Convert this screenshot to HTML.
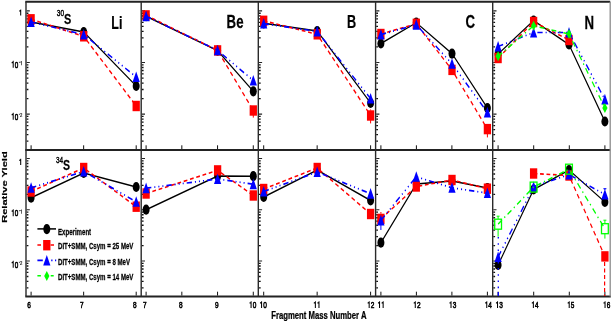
<!DOCTYPE html>
<html><head><meta charset="utf-8"><style>
html,body{margin:0;padding:0;background:#fff;overflow:hidden;}
svg{display:block;}
</style></head><body>
<svg width="612" height="322" viewBox="0 0 612 322">
<rect width="612" height="322" fill="#fff"/>
<path d="M26.60 10.90h3.2 M26.60 62.50h3.2 M26.60 114.10h3.2 M141.80 10.90h3.2 M141.80 62.50h3.2 M141.80 114.10h3.2 M258.90 10.90h3.2 M258.90 62.50h3.2 M258.90 114.10h3.2 M376.20 10.90h3.2 M376.20 62.50h3.2 M376.20 114.10h3.2 M493.30 10.90h3.2 M493.30 62.50h3.2 M493.30 114.10h3.2 M26.60 158.55h3.2 M26.60 209.80h3.2 M26.60 261.05h3.2 M141.80 158.55h3.2 M141.80 209.80h3.2 M141.80 261.05h3.2 M258.90 158.55h3.2 M258.90 209.80h3.2 M258.90 261.05h3.2 M376.20 158.55h3.2 M376.20 209.80h3.2 M376.20 261.05h3.2 M493.30 158.55h3.2 M493.30 209.80h3.2 M493.30 261.05h3.2" stroke="#222" stroke-width="1.1" fill="none"/>
<path d="M26.60 46.97h1.8 M26.60 37.88h1.8 M26.60 31.43h1.8 M26.60 26.43h1.8 M26.60 22.35h1.8 M26.60 18.89h1.8 M26.60 15.90h1.8 M26.60 13.26h1.8 M26.60 98.57h1.8 M26.60 89.48h1.8 M26.60 83.03h1.8 M26.60 78.03h1.8 M26.60 73.95h1.8 M26.60 70.49h1.8 M26.60 67.50h1.8 M26.60 64.86h1.8 M26.60 141.08h1.8 M26.60 134.63h1.8 M26.60 129.63h1.8 M26.60 125.55h1.8 M26.60 122.09h1.8 M26.60 119.10h1.8 M26.60 116.46h1.8 M141.80 46.97h1.8 M141.80 37.88h1.8 M141.80 31.43h1.8 M141.80 26.43h1.8 M141.80 22.35h1.8 M141.80 18.89h1.8 M141.80 15.90h1.8 M141.80 13.26h1.8 M141.80 98.57h1.8 M141.80 89.48h1.8 M141.80 83.03h1.8 M141.80 78.03h1.8 M141.80 73.95h1.8 M141.80 70.49h1.8 M141.80 67.50h1.8 M141.80 64.86h1.8 M141.80 141.08h1.8 M141.80 134.63h1.8 M141.80 129.63h1.8 M141.80 125.55h1.8 M141.80 122.09h1.8 M141.80 119.10h1.8 M141.80 116.46h1.8 M258.90 46.97h1.8 M258.90 37.88h1.8 M258.90 31.43h1.8 M258.90 26.43h1.8 M258.90 22.35h1.8 M258.90 18.89h1.8 M258.90 15.90h1.8 M258.90 13.26h1.8 M258.90 98.57h1.8 M258.90 89.48h1.8 M258.90 83.03h1.8 M258.90 78.03h1.8 M258.90 73.95h1.8 M258.90 70.49h1.8 M258.90 67.50h1.8 M258.90 64.86h1.8 M258.90 141.08h1.8 M258.90 134.63h1.8 M258.90 129.63h1.8 M258.90 125.55h1.8 M258.90 122.09h1.8 M258.90 119.10h1.8 M258.90 116.46h1.8 M376.20 46.97h1.8 M376.20 37.88h1.8 M376.20 31.43h1.8 M376.20 26.43h1.8 M376.20 22.35h1.8 M376.20 18.89h1.8 M376.20 15.90h1.8 M376.20 13.26h1.8 M376.20 98.57h1.8 M376.20 89.48h1.8 M376.20 83.03h1.8 M376.20 78.03h1.8 M376.20 73.95h1.8 M376.20 70.49h1.8 M376.20 67.50h1.8 M376.20 64.86h1.8 M376.20 141.08h1.8 M376.20 134.63h1.8 M376.20 129.63h1.8 M376.20 125.55h1.8 M376.20 122.09h1.8 M376.20 119.10h1.8 M376.20 116.46h1.8 M493.30 46.97h1.8 M493.30 37.88h1.8 M493.30 31.43h1.8 M493.30 26.43h1.8 M493.30 22.35h1.8 M493.30 18.89h1.8 M493.30 15.90h1.8 M493.30 13.26h1.8 M493.30 98.57h1.8 M493.30 89.48h1.8 M493.30 83.03h1.8 M493.30 78.03h1.8 M493.30 73.95h1.8 M493.30 70.49h1.8 M493.30 67.50h1.8 M493.30 64.86h1.8 M493.30 141.08h1.8 M493.30 134.63h1.8 M493.30 129.63h1.8 M493.30 125.55h1.8 M493.30 122.09h1.8 M493.30 119.10h1.8 M493.30 116.46h1.8 M26.60 194.37h1.8 M26.60 185.35h1.8 M26.60 178.94h1.8 M26.60 173.98h1.8 M26.60 169.92h1.8 M26.60 166.49h1.8 M26.60 163.52h1.8 M26.60 160.90h1.8 M26.60 245.62h1.8 M26.60 236.60h1.8 M26.60 230.19h1.8 M26.60 225.23h1.8 M26.60 221.17h1.8 M26.60 217.74h1.8 M26.60 214.77h1.8 M26.60 212.15h1.8 M26.60 287.85h1.8 M26.60 281.44h1.8 M26.60 276.48h1.8 M26.60 272.42h1.8 M26.60 268.99h1.8 M26.60 266.02h1.8 M26.60 263.40h1.8 M141.80 194.37h1.8 M141.80 185.35h1.8 M141.80 178.94h1.8 M141.80 173.98h1.8 M141.80 169.92h1.8 M141.80 166.49h1.8 M141.80 163.52h1.8 M141.80 160.90h1.8 M141.80 245.62h1.8 M141.80 236.60h1.8 M141.80 230.19h1.8 M141.80 225.23h1.8 M141.80 221.17h1.8 M141.80 217.74h1.8 M141.80 214.77h1.8 M141.80 212.15h1.8 M141.80 287.85h1.8 M141.80 281.44h1.8 M141.80 276.48h1.8 M141.80 272.42h1.8 M141.80 268.99h1.8 M141.80 266.02h1.8 M141.80 263.40h1.8 M258.90 194.37h1.8 M258.90 185.35h1.8 M258.90 178.94h1.8 M258.90 173.98h1.8 M258.90 169.92h1.8 M258.90 166.49h1.8 M258.90 163.52h1.8 M258.90 160.90h1.8 M258.90 245.62h1.8 M258.90 236.60h1.8 M258.90 230.19h1.8 M258.90 225.23h1.8 M258.90 221.17h1.8 M258.90 217.74h1.8 M258.90 214.77h1.8 M258.90 212.15h1.8 M258.90 287.85h1.8 M258.90 281.44h1.8 M258.90 276.48h1.8 M258.90 272.42h1.8 M258.90 268.99h1.8 M258.90 266.02h1.8 M258.90 263.40h1.8 M376.20 194.37h1.8 M376.20 185.35h1.8 M376.20 178.94h1.8 M376.20 173.98h1.8 M376.20 169.92h1.8 M376.20 166.49h1.8 M376.20 163.52h1.8 M376.20 160.90h1.8 M376.20 245.62h1.8 M376.20 236.60h1.8 M376.20 230.19h1.8 M376.20 225.23h1.8 M376.20 221.17h1.8 M376.20 217.74h1.8 M376.20 214.77h1.8 M376.20 212.15h1.8 M376.20 287.85h1.8 M376.20 281.44h1.8 M376.20 276.48h1.8 M376.20 272.42h1.8 M376.20 268.99h1.8 M376.20 266.02h1.8 M376.20 263.40h1.8 M493.30 194.37h1.8 M493.30 185.35h1.8 M493.30 178.94h1.8 M493.30 173.98h1.8 M493.30 169.92h1.8 M493.30 166.49h1.8 M493.30 163.52h1.8 M493.30 160.90h1.8 M493.30 245.62h1.8 M493.30 236.60h1.8 M493.30 230.19h1.8 M493.30 225.23h1.8 M493.30 221.17h1.8 M493.30 217.74h1.8 M493.30 214.77h1.8 M493.30 212.15h1.8 M493.30 287.85h1.8 M493.30 281.44h1.8 M493.30 276.48h1.8 M493.30 272.42h1.8 M493.30 268.99h1.8 M493.30 266.02h1.8 M493.30 263.40h1.8" stroke="#111" stroke-width="1.3" fill="none"/>
<path d="M31.10 149.20v-3.9 M83.65 149.20v-3.9 M136.20 149.20v-3.9 M146.10 149.20v-3.9 M181.83 149.20v-3.9 M217.56 149.20v-3.9 M253.29 149.20v-3.9 M263.70 149.20v-3.9 M317.15 149.20v-3.9 M370.60 149.20v-3.9 M380.90 149.20v-3.9 M416.40 149.20v-3.9 M451.90 149.20v-3.9 M487.40 149.20v-3.9 M498.10 149.20v-3.9 M533.70 149.20v-3.9 M569.30 149.20v-3.9 M604.90 149.20v-3.9 M31.10 295.60v-3.9 M83.65 295.60v-3.9 M136.20 295.60v-3.9 M146.10 295.60v-3.9 M181.83 295.60v-3.9 M217.56 295.60v-3.9 M253.29 295.60v-3.9 M263.70 295.60v-3.9 M317.15 295.60v-3.9 M370.60 295.60v-3.9 M380.90 295.60v-3.9 M416.40 295.60v-3.9 M451.90 295.60v-3.9 M487.40 295.60v-3.9 M498.10 295.60v-3.9 M533.70 295.60v-3.9 M569.30 295.60v-3.9 M604.90 295.60v-3.9" stroke="#111" stroke-width="1.0" fill="none"/>
<path d="M25.3 1.7H610.2 M25.3 150.0H610.2 M25.3 296.4H610.8000000000001" stroke="#222" stroke-width="2" fill="none"/>
<path d="M26.0 1.7V296.4 M141.2 1.7V296.4 M258.3 1.7V296.4 M375.6 1.7V296.4 M492.7 1.7V296.4" stroke="#2a2a2a" stroke-width="1.4" fill="none"/>
<path d="M610.2 1.7V296.4" stroke="#8c8c8c" stroke-width="1.3" fill="none"/>
<clipPath id="c00"><rect x="26.0" y="1.7" width="115.19999999999999" height="148.3"/></clipPath>
<g clip-path="url(#c00)">
<path transform="scale(0.75,1)" d="M41.47 22.00 L111.60 32.00 L181.60 86.00" fill="none" stroke="#000" stroke-width="1.45"/>
<ellipse cx="31.1" cy="22" rx="3.5" ry="5.1" fill="#000"/>
<ellipse cx="83.7" cy="32" rx="3.5" ry="5.1" fill="#000"/>
<ellipse cx="136.2" cy="86" rx="3.5" ry="5.1" fill="#000"/>
<path transform="scale(0.75,1)" d="M41.47 19.30 L111.60 36.30 L181.60 106.00" fill="none" stroke="#ff0000" stroke-width="1.6" stroke-dasharray="5 3.6"/>
<rect x="27.45" y="14.10" width="7.3" height="10.4" fill="#ff0000"/>
<rect x="80.05" y="31.10" width="7.3" height="10.4" fill="#ff0000"/>
<rect x="132.55" y="100.80" width="7.3" height="10.4" fill="#ff0000"/>
<path transform="scale(0.75,1)" d="M41.47 22.00 L111.60 34.50 L181.60 77.00" fill="none" stroke="#0000ff" stroke-width="1.7" stroke-dasharray="7 4 1.4 4 1.4 4 1.4 4"/>
<path d="M31.10 16.40L34.70 27.00H27.50Z" fill="#0000ff"/>
<path d="M83.70 28.90L87.30 39.50H80.10Z" fill="#0000ff"/>
<path d="M136.20 71.40L139.80 82.00H132.60Z" fill="#0000ff"/>
</g>
<clipPath id="c01"><rect x="141.2" y="1.7" width="117.10000000000002" height="148.3"/></clipPath>
<g clip-path="url(#c01)">
<path transform="scale(0.75,1)" d="M194.80 16.20 L290.13 50.60 L337.73 91.30" fill="none" stroke="#000" stroke-width="1.45"/>
<ellipse cx="146.1" cy="16.2" rx="3.5" ry="5.1" fill="#000"/>
<ellipse cx="217.6" cy="50.6" rx="3.5" ry="5.1" fill="#000"/>
<ellipse cx="253.3" cy="91.3" rx="3.5" ry="5.1" fill="#000"/>
<path transform="scale(0.75,1)" d="M194.80 15.40 L290.13 50.40 L337.73 110.50" fill="none" stroke="#ff0000" stroke-width="1.6" stroke-dasharray="5 3.6"/>
<rect x="142.45" y="10.20" width="7.3" height="10.4" fill="#ff0000"/>
<rect x="213.95" y="45.20" width="7.3" height="10.4" fill="#ff0000"/>
<rect x="249.65" y="105.30" width="7.3" height="10.4" fill="#ff0000"/>
<path transform="scale(0.75,1)" d="M194.80 16.20 L290.13 50.30 L337.73 80.50" fill="none" stroke="#0000ff" stroke-width="1.7" stroke-dasharray="7 4 1.4 4 1.4 4 1.4 4"/>
<path d="M146.10 10.60L149.70 21.20H142.50Z" fill="#0000ff"/>
<path d="M217.60 44.70L221.20 55.30H214.00Z" fill="#0000ff"/>
<path d="M253.30 74.90L256.90 85.50H249.70Z" fill="#0000ff"/>
</g>
<clipPath id="c02"><rect x="258.3" y="1.7" width="117.30000000000001" height="148.3"/></clipPath>
<g clip-path="url(#c02)">
<path transform="scale(0.75,1)" d="M351.60 23.30 L422.93 31.00 L494.13 103.00" fill="none" stroke="#000" stroke-width="1.45"/>
<ellipse cx="263.7" cy="23.3" rx="3.5" ry="5.1" fill="#000"/>
<ellipse cx="317.2" cy="31" rx="3.5" ry="5.1" fill="#000"/>
<ellipse cx="370.6" cy="103" rx="3.5" ry="5.1" fill="#000"/>
<path transform="scale(0.75,1)" d="M351.60 20.80 L422.93 34.30 L494.13 115.50" fill="none" stroke="#ff0000" stroke-width="1.6" stroke-dasharray="5 3.6"/>
<rect x="260.05" y="15.60" width="7.3" height="10.4" fill="#ff0000"/>
<rect x="313.55" y="29.10" width="7.3" height="10.4" fill="#ff0000"/>
<rect x="366.95" y="110.30" width="7.3" height="10.4" fill="#ff0000"/>
<path transform="scale(0.75,1)" d="M351.60 23.60 L422.93 31.40 L494.13 98.60" fill="none" stroke="#0000ff" stroke-width="1.7" stroke-dasharray="7 4 1.4 4 1.4 4 1.4 4"/>
<path d="M263.70 18.00L267.30 28.60H260.10Z" fill="#0000ff"/>
<path d="M317.20 25.80L320.80 36.40H313.60Z" fill="#0000ff"/>
<path d="M370.60 93.00L374.20 103.60H367.00Z" fill="#0000ff"/>
</g>
<clipPath id="c03"><rect x="375.6" y="1.7" width="117.09999999999997" height="148.3"/></clipPath>
<g clip-path="url(#c03)">
<path transform="scale(0.75,1)" d="M507.87 43.50 L555.07 22.70 L602.67 53.60 L649.87 108.00" fill="none" stroke="#000" stroke-width="1.45"/>
<ellipse cx="380.9" cy="43.5" rx="3.5" ry="5.1" fill="#000"/>
<ellipse cx="416.3" cy="22.7" rx="3.5" ry="5.1" fill="#000"/>
<ellipse cx="452" cy="53.6" rx="3.5" ry="5.1" fill="#000"/>
<ellipse cx="487.4" cy="108" rx="3.5" ry="5.1" fill="#000"/>
<path transform="scale(0.75,1)" d="M507.87 34.00 L555.07 23.80 L602.67 69.90 L649.87 129.10" fill="none" stroke="#ff0000" stroke-width="1.6" stroke-dasharray="5 3.6"/>
<rect x="377.25" y="28.80" width="7.3" height="10.4" fill="#ff0000"/>
<rect x="412.65" y="18.60" width="7.3" height="10.4" fill="#ff0000"/>
<rect x="448.35" y="64.70" width="7.3" height="10.4" fill="#ff0000"/>
<rect x="483.75" y="123.90" width="7.3" height="10.4" fill="#ff0000"/>
<path transform="scale(0.75,1)" d="M507.87 34.60 L555.07 24.70 L602.67 63.80 L649.87 112.40" fill="none" stroke="#0000ff" stroke-width="1.7" stroke-dasharray="7 4 1.4 4 1.4 4 1.4 4"/>
<path d="M380.90 29.00L384.50 39.60H377.30Z" fill="#0000ff"/>
<path d="M416.30 19.10L419.90 29.70H412.70Z" fill="#0000ff"/>
<path d="M452.00 58.20L455.60 68.80H448.40Z" fill="#0000ff"/>
<path d="M487.40 106.80L491.00 117.40H483.80Z" fill="#0000ff"/>
</g>
<clipPath id="c04"><rect x="492.7" y="1.7" width="117.50000000000006" height="148.3"/></clipPath>
<g clip-path="url(#c04)">
<path transform="scale(0.75,1)" d="M664.13 54.00 L711.47 20.50 L758.67 44.50 L806.53 121.50" fill="none" stroke="#000" stroke-width="1.45"/>
<ellipse cx="498.1" cy="54" rx="3.5" ry="5.1" fill="#000"/>
<ellipse cx="533.6" cy="20.5" rx="3.5" ry="5.1" fill="#000"/>
<ellipse cx="569" cy="44.5" rx="3.5" ry="5.1" fill="#000"/>
<ellipse cx="604.9" cy="121.5" rx="3.5" ry="5.1" fill="#000"/>
<path transform="scale(0.75,1)" d="M664.13 58.00 L711.47 22.00 L758.67 40.00" fill="none" stroke="#ff0000" stroke-width="1.6" stroke-dasharray="5 3.6"/>
<rect x="494.45" y="52.80" width="7.3" height="10.4" fill="#ff0000"/>
<rect x="529.95" y="16.80" width="7.3" height="10.4" fill="#ff0000"/>
<rect x="565.35" y="34.80" width="7.3" height="10.4" fill="#ff0000"/>
<path transform="scale(0.75,1)" d="M664.13 46.50 L711.47 32.50 L758.67 32.50 L806.53 99.40" fill="none" stroke="#0000ff" stroke-width="1.7" stroke-dasharray="7 4 1.4 4 1.4 4 1.4 4"/>
<path d="M498.10 40.90L501.70 51.50H494.50Z" fill="#0000ff"/>
<path d="M533.60 26.90L537.20 37.50H530.00Z" fill="#0000ff"/>
<path d="M569.00 26.90L572.60 37.50H565.40Z" fill="#0000ff"/>
<path d="M604.90 93.80L608.50 104.40H601.30Z" fill="#0000ff"/>
<path transform="scale(0.75,1)" d="M664.13 56.30 L711.47 25.80 L758.67 34.00 L806.53 108.00" fill="none" stroke="#00ff00" stroke-width="1.6" stroke-dasharray="6.5 4 1.6 4"/>
<path d="M498.10 51.30L500.70 56.30L498.10 61.30L495.50 56.30Z" fill="#00ff00"/>
<path d="M533.60 20.80L536.20 25.80L533.60 30.80L531.00 25.80Z" fill="#00ff00"/>
<path d="M569.00 29.00L571.60 34.00L569.00 39.00L566.40 34.00Z" fill="#00ff00"/>
<path d="M604.90 103.00L607.50 108.00L604.90 113.00L602.30 108.00Z" fill="#00ff00"/>
</g>
<clipPath id="c10"><rect x="26.0" y="150.0" width="115.19999999999999" height="146.39999999999998"/></clipPath>
<g clip-path="url(#c10)">
<path transform="scale(0.75,1)" d="M41.47 197.70 L111.60 173.00 L181.60 187.00" fill="none" stroke="#000" stroke-width="1.45"/>
<ellipse cx="31.1" cy="197.7" rx="3.5" ry="5.1" fill="#000"/>
<ellipse cx="83.7" cy="173" rx="3.5" ry="5.1" fill="#000"/>
<ellipse cx="136.2" cy="187" rx="3.5" ry="5.1" fill="#000"/>
<path transform="scale(0.75,1)" d="M41.47 191.50 L111.60 168.00 L181.60 206.70" fill="none" stroke="#ff0000" stroke-width="1.6" stroke-dasharray="5 3.6"/>
<rect x="27.45" y="186.30" width="7.3" height="10.4" fill="#ff0000"/>
<rect x="80.05" y="162.80" width="7.3" height="10.4" fill="#ff0000"/>
<rect x="132.55" y="201.50" width="7.3" height="10.4" fill="#ff0000"/>
<path transform="scale(0.75,1)" d="M41.47 187.80 L111.60 171.50 L181.60 201.80" fill="none" stroke="#0000ff" stroke-width="1.7" stroke-dasharray="7 4 1.4 4 1.4 4 1.4 4"/>
<path d="M31.10 182.20L34.70 192.80H27.50Z" fill="#0000ff"/>
<path d="M83.70 165.90L87.30 176.50H80.10Z" fill="#0000ff"/>
<path d="M136.20 196.20L139.80 206.80H132.60Z" fill="#0000ff"/>
</g>
<clipPath id="c11"><rect x="141.2" y="150.0" width="117.10000000000002" height="146.39999999999998"/></clipPath>
<g clip-path="url(#c11)">
<path transform="scale(0.75,1)" d="M194.80 209.70 L290.13 176.00 L337.73 176.20" fill="none" stroke="#000" stroke-width="1.45"/>
<ellipse cx="146.1" cy="209.7" rx="3.5" ry="5.1" fill="#000"/>
<ellipse cx="217.6" cy="176" rx="3.5" ry="5.1" fill="#000"/>
<ellipse cx="253.3" cy="176.2" rx="3.5" ry="5.1" fill="#000"/>
<path transform="scale(0.75,1)" d="M194.80 193.50 L290.13 170.40 L337.73 195.50" fill="none" stroke="#ff0000" stroke-width="1.6" stroke-dasharray="5 3.6"/>
<rect x="142.45" y="188.30" width="7.3" height="10.4" fill="#ff0000"/>
<rect x="213.95" y="165.20" width="7.3" height="10.4" fill="#ff0000"/>
<rect x="249.65" y="190.30" width="7.3" height="10.4" fill="#ff0000"/>
<path transform="scale(0.75,1)" d="M194.80 188.20 L290.13 179.00 L337.73 184.20" fill="none" stroke="#0000ff" stroke-width="1.7" stroke-dasharray="7 4 1.4 4 1.4 4 1.4 4"/>
<path d="M146.10 182.60L149.70 193.20H142.50Z" fill="#0000ff"/>
<path d="M217.60 173.40L221.20 184.00H214.00Z" fill="#0000ff"/>
<path d="M253.30 178.60L256.90 189.20H249.70Z" fill="#0000ff"/>
</g>
<clipPath id="c12"><rect x="258.3" y="150.0" width="117.30000000000001" height="146.39999999999998"/></clipPath>
<g clip-path="url(#c12)">
<path transform="scale(0.75,1)" d="M351.60 197.00 L422.93 170.00 L494.13 200.50" fill="none" stroke="#000" stroke-width="1.45"/>
<ellipse cx="263.7" cy="197" rx="3.5" ry="5.1" fill="#000"/>
<ellipse cx="317.2" cy="170" rx="3.5" ry="5.1" fill="#000"/>
<ellipse cx="370.6" cy="200.5" rx="3.5" ry="5.1" fill="#000"/>
<path transform="scale(0.75,1)" d="M351.60 189.00 L422.93 168.00 L494.13 214.00" fill="none" stroke="#ff0000" stroke-width="1.6" stroke-dasharray="5 3.6"/>
<rect x="260.05" y="183.80" width="7.3" height="10.4" fill="#ff0000"/>
<rect x="313.55" y="162.80" width="7.3" height="10.4" fill="#ff0000"/>
<rect x="366.95" y="208.80" width="7.3" height="10.4" fill="#ff0000"/>
<path transform="scale(0.75,1)" d="M351.60 191.50 L422.93 172.00 L494.13 193.70" fill="none" stroke="#0000ff" stroke-width="1.7" stroke-dasharray="7 4 1.4 4 1.4 4 1.4 4"/>
<path d="M263.70 185.90L267.30 196.50H260.10Z" fill="#0000ff"/>
<path d="M317.20 166.40L320.80 177.00H313.60Z" fill="#0000ff"/>
<path d="M370.60 188.10L374.20 198.70H367.00Z" fill="#0000ff"/>
</g>
<clipPath id="c13"><rect x="375.6" y="150.0" width="117.09999999999997" height="146.39999999999998"/></clipPath>
<g clip-path="url(#c13)">
<path transform="scale(0.75,1)" d="M507.87 242.70 L555.07 184.00 L602.67 181.00 L649.87 188.00" fill="none" stroke="#000" stroke-width="1.45"/>
<ellipse cx="380.9" cy="242.7" rx="3.5" ry="5.1" fill="#000"/>
<ellipse cx="416.3" cy="184" rx="3.5" ry="5.1" fill="#000"/>
<ellipse cx="452" cy="181" rx="3.5" ry="5.1" fill="#000"/>
<ellipse cx="487.4" cy="188" rx="3.5" ry="5.1" fill="#000"/>
<path transform="scale(0.75,1)" d="M507.87 218.90 L555.07 186.50 L602.67 180.00 L649.87 188.70" fill="none" stroke="#ff0000" stroke-width="1.6" stroke-dasharray="5 3.6"/>
<rect x="377.25" y="213.70" width="7.3" height="10.4" fill="#ff0000"/>
<rect x="412.65" y="181.30" width="7.3" height="10.4" fill="#ff0000"/>
<rect x="448.35" y="174.80" width="7.3" height="10.4" fill="#ff0000"/>
<rect x="483.75" y="183.50" width="7.3" height="10.4" fill="#ff0000"/>
<path transform="scale(0.75,1)" d="M507.87 220.40 L555.07 176.80 L602.67 187.80 L649.87 193.10" fill="none" stroke="#0000ff" stroke-width="1.7" stroke-dasharray="7 4 1.4 4 1.4 4 1.4 4"/>
<path d="M380.90 214.80L384.50 225.40H377.30Z" fill="#0000ff"/>
<path d="M416.30 171.20L419.90 181.80H412.70Z" fill="#0000ff"/>
<path d="M452.00 182.20L455.60 192.80H448.40Z" fill="#0000ff"/>
<path d="M487.40 187.50L491.00 198.10H483.80Z" fill="#0000ff"/>
</g>
<clipPath id="c14"><rect x="492.7" y="150.0" width="117.50000000000006" height="146.39999999999998"/></clipPath>
<g clip-path="url(#c14)">
<path transform="scale(0.75,1)" d="M664.13 265.00 L711.47 189.50 L758.67 170.00 L806.53 202.00" fill="none" stroke="#000" stroke-width="1.45"/>
<ellipse cx="498.1" cy="265" rx="3.5" ry="5.1" fill="#000"/>
<ellipse cx="533.6" cy="189.5" rx="3.5" ry="5.1" fill="#000"/>
<ellipse cx="569" cy="170" rx="3.5" ry="5.1" fill="#000"/>
<ellipse cx="604.9" cy="202" rx="3.5" ry="5.1" fill="#000"/>
<path transform="scale(0.75,1)" d="M711.47 173.50 L758.67 175.50 L806.53 256.40" fill="none" stroke="#ff0000" stroke-width="1.6" stroke-dasharray="5 3.6"/>
<rect x="529.95" y="168.30" width="7.3" height="10.4" fill="#ff0000"/>
<rect x="565.35" y="170.30" width="7.3" height="10.4" fill="#ff0000"/>
<rect x="601.25" y="251.20" width="7.3" height="10.4" fill="#ff0000"/>
<path transform="scale(0.75,1)" d="M664.13 257.00 L711.47 186.80 L758.67 174.50 L806.53 194.50" fill="none" stroke="#0000ff" stroke-width="1.7" stroke-dasharray="7 4 1.4 4 1.4 4 1.4 4"/>
<path d="M498.10 251.40L501.70 262.00H494.50Z" fill="#0000ff"/>
<path d="M533.60 181.20L537.20 191.80H530.00Z" fill="#0000ff"/>
<path d="M569.00 168.90L572.60 179.50H565.40Z" fill="#0000ff"/>
<path d="M604.90 188.90L608.50 199.50H601.30Z" fill="#0000ff"/>
<path transform="scale(0.75,1)" d="M664.13 224.20 L711.47 187.10 L758.67 169.20 L806.53 228.70" fill="none" stroke="#00ff00" stroke-width="1.6" stroke-dasharray="6.5 4 1.6 4"/>
<rect x="494.70" y="219.20" width="6.8" height="10" fill="none" stroke="#00ff00" stroke-width="1.3"/>
<rect x="530.20" y="182.10" width="6.8" height="10" fill="none" stroke="#00ff00" stroke-width="1.3"/>
<rect x="565.60" y="164.20" width="6.8" height="10" fill="none" stroke="#00ff00" stroke-width="1.3"/>
<rect x="601.50" y="223.70" width="6.8" height="10" fill="none" stroke="#00ff00" stroke-width="1.3"/>
</g>
<path d="M498.3 237V292" stroke="#0000ff" stroke-width="1.3" stroke-dasharray="1.6 4.6"/><path d="M498.3 292V296" stroke="#0000ff" stroke-width="1.3"/><path d="M604.6 262V296" stroke="#ff0000" stroke-width="1.2" stroke-dasharray="4 2.5"/><path d="M253.3 115V117.6 M370.6 120V123.4 M370.6 110.5V109.5 M487.4 134V137.4" stroke="#ff0000" stroke-width="1"/><path d="M498.1 219V216.2 M496.6 216.2H499.6 M498.1 229.2V236.7 M604.9 223.6V220.2 M603.4 220.2H606.4 M604.9 233.7V238.6" stroke="#00ff00" stroke-width="1"/><path d="M604.9 190V188.7 M603.4 188.7H606.4 M380.9 225V230" stroke="#0000ff" stroke-width="1"/><path d="M380.9 213.7V212" stroke="#ff0000" stroke-width="1"/>
<path d="M37.4 228.9H56" stroke="#000" stroke-width="1.5"/>
<ellipse cx="46.8" cy="229.1" rx="3.5" ry="5.1" fill="#000"/>
<path d="M37.4 245.0H41 M50.6 245.0H54" stroke="#ff0000" stroke-width="1.5"/>
<rect x="43.15" y="240.00" width="7.3" height="10.4" fill="#ff0000"/>
<path d="M37.4 260.4H42.8 M51.2 260.4H52.5 M55.0 260.4H56.2" stroke="#0000ff" stroke-width="1.6"/>
<path d="M46.80 255.00L50.40 265.60H43.20Z" fill="#0000ff"/>
<path d="M37.4 275.7H40.9 M50.7 275.7H53.7" stroke="#00ff00" stroke-width="1.5"/>
<path d="M46.80 270.90L49.40 275.90L46.80 280.90L44.20 275.90Z" fill="#00ff00"/>
<g font-family="Liberation Sans" font-weight="bold" fill="#000" stroke="#000" stroke-width="0.25" opacity="0.999"><text transform="translate(111.30,28.60) scale(0.7,1)" font-size="17.8" text-anchor="start" >Li</text><text transform="translate(226.60,27.80) scale(0.75,1)" font-size="17.6" text-anchor="start" >Be</text><text transform="translate(346.90,28.10) scale(0.72,1)" font-size="17.6" text-anchor="start" >B</text><text transform="translate(465.60,27.80) scale(0.75,1)" font-size="17.6" text-anchor="start" >C</text><text transform="translate(584.40,28.80) scale(0.735,1)" font-size="18.0" text-anchor="start" >N</text><text transform="translate(64.10,23.60) scale(0.71,1)" font-size="15.4" text-anchor="start" >S</text><text transform="translate(56.80,16.40) scale(0.72,1)" font-size="9.0" text-anchor="start" font-weight="normal" stroke-width="0.45">30</text><text transform="translate(62.90,169.80) scale(0.685,1)" font-size="15.4" text-anchor="start" >S</text><text transform="translate(56.00,162.60) scale(0.68,1)" font-size="9.4" text-anchor="start" font-weight="normal" stroke-width="0.45">34</text><path transform="translate(18.71,15.50) scale(6.450,-8.600)" d="M0.228 0H0.388V0.712H0.262C0.245 0.625 0.17 0.588 0.062 0.585V0.47H0.228Z" stroke="none"/><path transform="translate(11.25,67.70) scale(6.336,-9.600)" d="M0.228 0H0.388V0.712H0.262C0.245 0.625 0.17 0.588 0.062 0.585V0.47H0.228Z" stroke="none"/><text transform="translate(14.78,67.70) scale(0.66,1)" font-size="9.6" font-weight="normal" stroke-width="0.6">0</text><rect x="18.9" y="61.80" width="1.3" height="0.9" stroke="none" fill="#333"/><g stroke="none" fill="#222"><path transform="translate(20.10,65.20) scale(4.320,-6.000)" d="M0.228 0H0.388V0.712H0.262C0.245 0.625 0.17 0.588 0.062 0.585V0.47H0.228Z" stroke="none"/></g><path transform="translate(11.25,119.70) scale(6.336,-9.600)" d="M0.228 0H0.388V0.712H0.262C0.245 0.625 0.17 0.588 0.062 0.585V0.47H0.228Z" stroke="none"/><text transform="translate(14.78,119.70) scale(0.66,1)" font-size="9.6" font-weight="normal" stroke-width="0.6">0</text><rect x="18.9" y="113.80" width="1.3" height="0.9" stroke="none" fill="#333"/><g stroke="none" fill="#222"><text transform="translate(20.10,117.20) scale(0.72,1)" font-size="6.0" >2</text></g><path transform="translate(18.71,164.90) scale(6.450,-8.600)" d="M0.228 0H0.388V0.712H0.262C0.245 0.625 0.17 0.588 0.062 0.585V0.47H0.228Z" stroke="none"/><path transform="translate(11.25,216.20) scale(6.336,-9.600)" d="M0.228 0H0.388V0.712H0.262C0.245 0.625 0.17 0.588 0.062 0.585V0.47H0.228Z" stroke="none"/><text transform="translate(14.78,216.20) scale(0.66,1)" font-size="9.6" font-weight="normal" stroke-width="0.6">0</text><rect x="18.9" y="210.30" width="1.3" height="0.9" stroke="none" fill="#333"/><g stroke="none" fill="#222"><path transform="translate(20.10,213.70) scale(4.320,-6.000)" d="M0.228 0H0.388V0.712H0.262C0.245 0.625 0.17 0.588 0.062 0.585V0.47H0.228Z" stroke="none"/></g><path transform="translate(11.25,267.70) scale(6.336,-9.600)" d="M0.228 0H0.388V0.712H0.262C0.245 0.625 0.17 0.588 0.062 0.585V0.47H0.228Z" stroke="none"/><text transform="translate(14.78,267.70) scale(0.66,1)" font-size="9.6" font-weight="normal" stroke-width="0.6">0</text><rect x="18.9" y="261.80" width="1.3" height="0.9" stroke="none" fill="#333"/><g stroke="none" fill="#222"><text transform="translate(20.10,265.20) scale(0.72,1)" font-size="6.0" >2</text></g><text transform="translate(27.20,308.00) scale(0.69,1)" font-size="9.4" font-weight="normal" stroke-width="0.6">6</text><text transform="translate(80.11,308.00) scale(0.69,1)" font-size="9.4" font-weight="normal" stroke-width="0.6">7</text><text transform="translate(133.01,308.00) scale(0.69,1)" font-size="9.4" font-weight="normal" stroke-width="0.6">8</text><text transform="translate(142.97,308.00) scale(0.69,1)" font-size="9.4" font-weight="normal" stroke-width="0.6">7</text><text transform="translate(178.94,308.00) scale(0.69,1)" font-size="9.4" font-weight="normal" stroke-width="0.6">8</text><text transform="translate(214.91,308.00) scale(0.69,1)" font-size="9.4" font-weight="normal" stroke-width="0.6">9</text><path transform="translate(249.08,308.00) scale(6.486,-9.400)" d="M0.228 0H0.388V0.712H0.262C0.245 0.625 0.17 0.588 0.062 0.585V0.47H0.228Z" stroke="none"/><text transform="translate(252.69,308.00) scale(0.69,1)" font-size="9.4" font-weight="normal" stroke-width="0.6">0</text><path transform="translate(259.56,308.00) scale(6.486,-9.400)" d="M0.228 0H0.388V0.712H0.262C0.245 0.625 0.17 0.588 0.062 0.585V0.47H0.228Z" stroke="none"/><text transform="translate(263.17,308.00) scale(0.69,1)" font-size="9.4" font-weight="normal" stroke-width="0.6">0</text><path transform="translate(313.37,308.00) scale(6.486,-9.400)" d="M0.228 0H0.388V0.712H0.262C0.245 0.625 0.17 0.588 0.062 0.585V0.47H0.228Z" stroke="none"/><path transform="translate(316.97,308.00) scale(6.486,-9.400)" d="M0.228 0H0.388V0.712H0.262C0.245 0.625 0.17 0.588 0.062 0.585V0.47H0.228Z" stroke="none"/><path transform="translate(367.18,308.00) scale(6.486,-9.400)" d="M0.228 0H0.388V0.712H0.262C0.245 0.625 0.17 0.588 0.062 0.585V0.47H0.228Z" stroke="none"/><text transform="translate(370.78,308.00) scale(0.69,1)" font-size="9.4" font-weight="normal" stroke-width="0.6">2</text><path transform="translate(377.54,308.00) scale(6.486,-9.400)" d="M0.228 0H0.388V0.712H0.262C0.245 0.625 0.17 0.588 0.062 0.585V0.47H0.228Z" stroke="none"/><path transform="translate(381.15,308.00) scale(6.486,-9.400)" d="M0.228 0H0.388V0.712H0.262C0.245 0.625 0.17 0.588 0.062 0.585V0.47H0.228Z" stroke="none"/><path transform="translate(413.28,308.00) scale(6.486,-9.400)" d="M0.228 0H0.388V0.712H0.262C0.245 0.625 0.17 0.588 0.062 0.585V0.47H0.228Z" stroke="none"/><text transform="translate(416.89,308.00) scale(0.69,1)" font-size="9.4" font-weight="normal" stroke-width="0.6">2</text><path transform="translate(449.02,308.00) scale(6.486,-9.400)" d="M0.228 0H0.388V0.712H0.262C0.245 0.625 0.17 0.588 0.062 0.585V0.47H0.228Z" stroke="none"/><text transform="translate(452.63,308.00) scale(0.69,1)" font-size="9.4" font-weight="normal" stroke-width="0.6">3</text><path transform="translate(484.76,308.00) scale(6.486,-9.400)" d="M0.228 0H0.388V0.712H0.262C0.245 0.625 0.17 0.588 0.062 0.585V0.47H0.228Z" stroke="none"/><text transform="translate(488.36,308.00) scale(0.69,1)" font-size="9.4" font-weight="normal" stroke-width="0.6">4</text><path transform="translate(495.53,308.00) scale(6.486,-9.400)" d="M0.228 0H0.388V0.712H0.262C0.245 0.625 0.17 0.588 0.062 0.585V0.47H0.228Z" stroke="none"/><text transform="translate(499.14,308.00) scale(0.69,1)" font-size="9.4" font-weight="normal" stroke-width="0.6">3</text><path transform="translate(531.37,308.00) scale(6.486,-9.400)" d="M0.228 0H0.388V0.712H0.262C0.245 0.625 0.17 0.588 0.062 0.585V0.47H0.228Z" stroke="none"/><text transform="translate(534.97,308.00) scale(0.69,1)" font-size="9.4" font-weight="normal" stroke-width="0.6">4</text><path transform="translate(567.21,308.00) scale(6.486,-9.400)" d="M0.228 0H0.388V0.712H0.262C0.245 0.625 0.17 0.588 0.062 0.585V0.47H0.228Z" stroke="none"/><text transform="translate(570.81,308.00) scale(0.69,1)" font-size="9.4" font-weight="normal" stroke-width="0.6">5</text><path transform="translate(603.05,308.00) scale(6.486,-9.400)" d="M0.228 0H0.388V0.712H0.262C0.245 0.625 0.17 0.588 0.062 0.585V0.47H0.228Z" stroke="none"/><text transform="translate(606.65,308.00) scale(0.69,1)" font-size="9.4" font-weight="normal" stroke-width="0.6">6</text><text transform="translate(271.20,319.10) scale(0.772,1)" font-size="10.0" text-anchor="start" >Fragment Mass Number A</text><text transform="translate(7.2,222.8) rotate(-90) scale(1,0.71)" font-size="11.1">Relative Yield</text><text transform="translate(58.00,234.50) scale(0.735,1)" font-size="8.3" text-anchor="start" >Experiment</text><text transform="translate(58.00,249.40) scale(0.735,1)" font-size="8.3" text-anchor="start" >DIT+SMM, Csym = 25 MeV</text><text transform="translate(58.00,264.70) scale(0.735,1)" font-size="8.3" text-anchor="start" >DIT+SMM, Csym = 8 MeV</text><text transform="translate(58.00,280.00) scale(0.735,1)" font-size="8.3" text-anchor="start" >DIT+SMM, Csym = 14 MeV</text></g>
</svg></body></html>
